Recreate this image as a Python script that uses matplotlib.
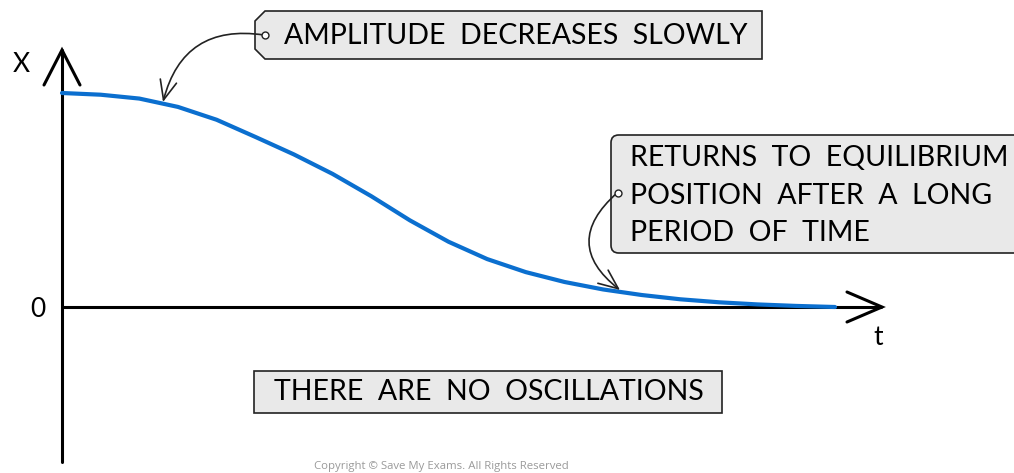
import numpy as np
import matplotlib
matplotlib.use("Agg")
import matplotlib.pyplot as plt
from matplotlib.patches import Polygon, FancyArrowPatch, FancyBboxPatch

# curve values (t in arbitrary units, x normalised)
t_vals = [0, 0.5, 1, 1.5, 2, 2.5, 3, 3.5, 4, 4.5, 5, 5.5, 6, 6.5, 7, 7.5, 8, 8.5, 9, 9.5, 10]
x_vals = [1.0, 0.992, 0.974, 0.935, 0.875, 0.795, 0.713, 0.622, 0.518, 0.405, 0.305, 0.224,
          0.163, 0.117, 0.082, 0.056, 0.036, 0.022, 0.012, 0.005, 0.0]

label_top = "AMPLITUDE  DECREASES  SLOWLY"
label_right = ["RETURNS  TO  EQUILIBRIUM", "POSITION  AFTER  A  LONG", "PERIOD  OF  TIME"]
label_bottom = "THERE  ARE  NO  OSCILLATIONS"

W, H = 1014, 473
X0, Y0 = 62, 307          # pixel of origin
SX, SY = 77.3, 214.0      # pixels per data unit

FONT = "Lato"
FS = 20.5


def P(px, py):
    # pixel position -> data coordinates
    return ((px - X0) / SX, (Y0 - py) / SY)


fig = plt.figure(figsize=(W / 100, H / 100), dpi=100)
ax = fig.add_axes([0, 0, 1, 1])
ax.set_xlim(-X0 / SX, (W - X0) / SX)
ax.set_ylim(-(H - Y0) / SY, Y0 / SY)
ax.axis("off")

# axes
lw_axis = 2.2
ax.plot(*zip(P(62, 462), P(62, 50)), color="black", lw=lw_axis, solid_capstyle="round")
ax.plot(*zip(P(44, 85), P(62, 50), P(80, 85)), color="black", lw=lw_axis,
        solid_capstyle="round", solid_joinstyle="miter")
ax.plot(*zip(P(62, 307), P(881, 307)), color="black", lw=lw_axis, solid_capstyle="round")
ax.plot(*zip(P(847, 292), P(882, 307), P(847, 322)), color="black", lw=lw_axis,
        solid_capstyle="round", solid_joinstyle="miter")

# curve
ax.plot(t_vals, x_vals, color="#0b6fcf", lw=3.0, solid_capstyle="round",
        solid_joinstyle="round", zorder=3)

# axis labels
ax.text(*P(21, 64), "X", fontsize=19, family=FONT, ha="center", va="center")
ax.text(*P(38, 309), "0", fontsize=19, family=FONT, ha="center", va="center")
ax.text(*P(878, 337), "t", fontsize=19, family=FONT, ha="center", va="center")

box_kw = dict(facecolor="#e9e9e9", edgecolor="#222222", lw=1.2, zorder=2)
arrow_kw = dict(arrowstyle="->,head_length=14,head_width=6", color="#222222",
                lw=1.2, shrinkA=0, shrinkB=0, zorder=4)

# top tag box
tag = [P(265, 11), P(762, 11), P(762, 59), P(265, 59), P(255, 49), P(255, 21)]
ax.add_patch(Polygon(tag, closed=True, **box_kw))
ax.text(*P(516, 36), label_top, fontsize=FS, family=FONT, ha="center", va="center", zorder=4)
ax.add_patch(FancyArrowPatch(P(264, 35), P(163, 102), connectionstyle="arc3,rad=0.45", **arrow_kw))

# right box
x_a, y_a = P(611, 135)
x_b, y_b = P(1030, 253)
ax.add_patch(FancyBboxPatch((x_a, y_b), x_b - x_a, y_a - y_b,
                            boxstyle="round,pad=0,rounding_size=0.1", mutation_aspect=SX / SY,
                            **box_kw))
for i, line in enumerate(label_right):
    ax.text(*P(630, 158 + 37.5 * i), line, fontsize=FS, family=FONT, ha="left", va="center", zorder=4)
ax.add_patch(FancyArrowPatch(P(617, 193), P(620, 290), connectionstyle="arc3,rad=0.6", **arrow_kw))

# bottom box
x_a, y_a = P(254, 371)
x_b, y_b = P(722, 413)
ax.add_patch(Polygon([(x_a, y_a), (x_b, y_a), (x_b, y_b), (x_a, y_b)], closed=True, **box_kw))
ax.text(*P(489, 392), label_bottom, fontsize=FS, family=FONT, ha="center", va="center", zorder=4)

# connector dots
for px, py in [(265, 35), (618, 193)]:
    ax.plot(*P(px, py), marker="o", ms=5, mfc="white", mec="#222222", mew=1.0, zorder=5)

ax.text(*P(441, 466), "Copyright © Save My Exams. All Rights Reserved", fontsize=8.2,
        family="Open Sans", color="#9a9a9a", ha="center", va="center")

fig.savefig("out.png", dpi=100)
